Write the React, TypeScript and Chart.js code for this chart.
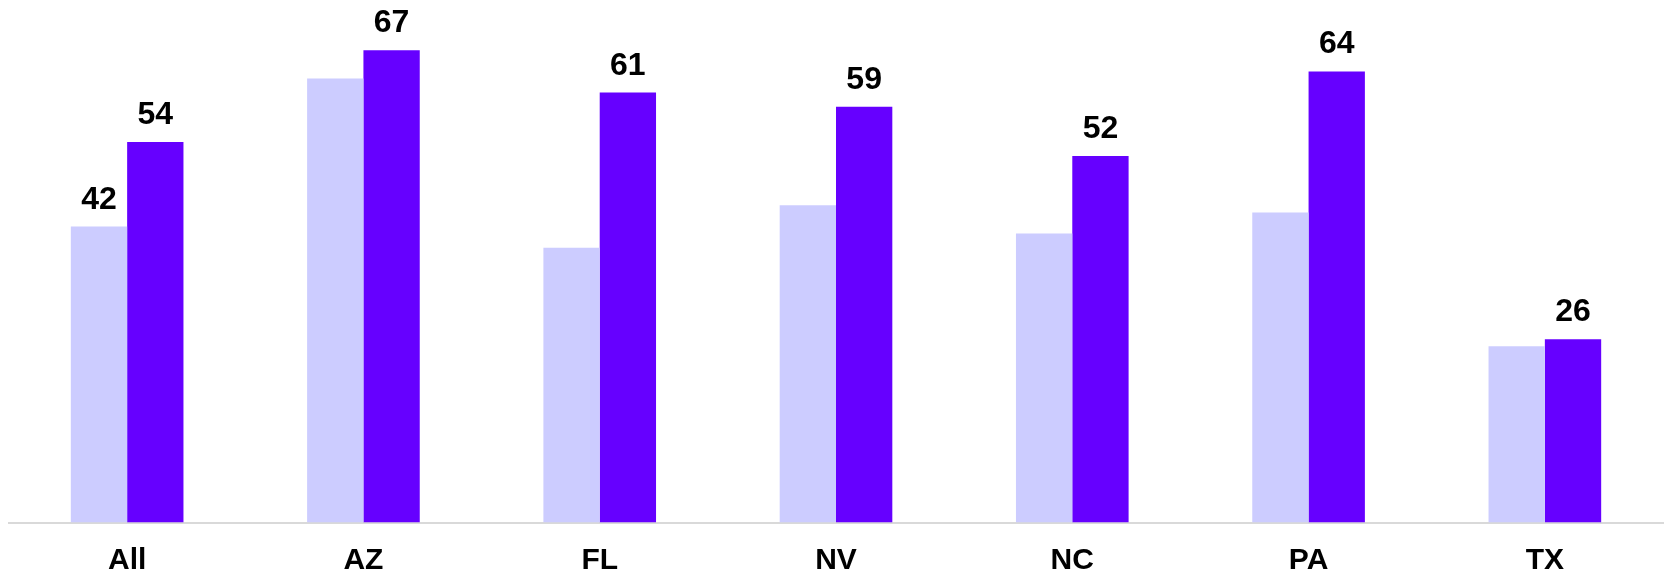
import React, { useEffect, useRef } from "react";
import { Chart, registerables } from "chart.js";

Chart.register(...registerables);

const categories = ["All", "AZ", "FL", "NV", "NC", "PA", "TX"];
const lightValues = [42, 63, 39, 45, 41, 44, 25];
const darkValues = [54, 67, 61, 59, 52, 64, 26];
const lightShowLabel = [true, false, false, false, false, false, false];
const darkShowLabel = [true, true, true, true, true, true, true];

const FONT = '"Liberation Sans", Arial, sans-serif';

const valueLabelPlugin = {
  id: "valueLabels",
  afterDatasetsDraw(chart: any) {
    const ctx = chart.ctx;
    const flags = [lightShowLabel, darkShowLabel];
    ctx.save();
    ctx.font = `bold 32px ${FONT}`;
    ctx.fillStyle = "#000000";
    ctx.textAlign = "center";
    ctx.textBaseline = "alphabetic";
    chart.data.datasets.forEach((ds: any, di: number) => {
      const meta = chart.getDatasetMeta(di);
      meta.data.forEach((el: any, i: number) => {
        if (!flags[di][i]) return;
        ctx.fillText(String(ds.data[i]), el.x, el.y - 18);
      });
    });
    ctx.restore();
  },
};

export default function App() {
  const ref = useRef<HTMLCanvasElement | null>(null);
  useEffect(() => {
    if (!ref.current) return;
    const chart = new Chart(ref.current, {
      type: "bar",
      data: {
        labels: categories,
        datasets: [
          {
            label: "Light",
            data: lightValues,
            backgroundColor: "#CCCCFF",
            borderWidth: 0,
            categoryPercentage: 0.4767,
            barPercentage: 1,
          },
          {
            label: "Dark",
            data: darkValues,
            backgroundColor: "#6600FF",
            borderWidth: 0,
            categoryPercentage: 0.4767,
            barPercentage: 1,
          },
        ],
      },
      options: {
        animation: false,
        responsive: false,
        layout: { padding: { left: 9, right: 4, top: 1, bottom: 0 } },
        plugins: {
          legend: { display: false },
          tooltip: { enabled: false },
        },
        scales: {
          x: {
            grid: { display: false, drawTicks: false },
            border: { display: true, color: "#D9D9D9", width: 2 },
            ticks: {
              color: "#000000",
              padding: 20,
              font: { family: FONT, size: 30, weight: "bold" },
            },
            afterFit: (scale: any) => {
              scale.height = 52.5;
            },
          },
          y: {
            display: false,
            min: 0,
            max: 74,
          },
        },
      },
      plugins: [valueLabelPlugin],
    });
    return () => chart.destroy();
  }, []);
  return (
    <div style={{ position: "absolute", left: 0, top: 0, width: 1667, height: 575, background: "#ffffff" }}>
      <canvas ref={ref} width={1667} height={575} style={{ display: "block" }} />
    </div>
  );
}
